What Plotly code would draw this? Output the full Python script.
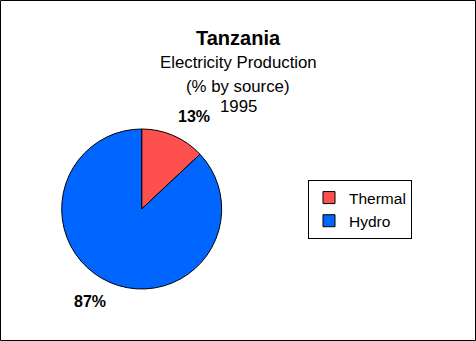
import math
import plotly.graph_objects as go

labels = ["Thermal", "Hydro"]
values = [13, 87]
colors = ["#FF5050", "#0066FF"]
title = "Tanzania"
subtitles = ["Electricity Production", "(% by source)", "1995"]

W, H = 476, 341
cx, cy, r = 141.7, 209.0, 80.0  # pixel centre / radius of pie
FONT = "Liberation Sans, Arial, sans-serif"

fig = go.Figure()
fig.add_trace(go.Pie(
    labels=labels, values=values, sort=False, direction="clockwise", rotation=0,
    marker=dict(colors=colors, line=dict(color="black", width=1)),
    textinfo="none", hoverinfo="label+percent",
    domain=dict(x=[(cx - r) / W, (cx + r) / W], y=[1 - (cy + r) / H, 1 - (cy - r) / H]),
))

# percentage labels placed from the data (mid-angle of each slice)
total = sum(values)
cum = 0
annotations = []
for v in values:
    mid = (cum + v / 2) / total * 360 + 6
    cum += v
    R = 106
    x = cx + R * math.sin(math.radians(mid))
    y = cy - R * math.cos(math.radians(mid))
    annotations.append(dict(x=x / W, y=1 - y / H, xref="paper", yref="paper",
                            text=f"<b>{round(v / total * 100)}%</b>", showarrow=False,
                            font=dict(family=FONT, size=16, color="black"),
                            xanchor="center", yanchor="middle"))

annotations.append(dict(x=238 / W, y=1 - 38 / H, xref="paper", yref="paper",
                        text=f"<b>{title}</b>", showarrow=False,
                        font=dict(family=FONT, size=20, color="black"),
                        xanchor="center", yanchor="middle"))
for ty, s in zip([62, 86, 107], subtitles):
    annotations.append(dict(x=238 / W, y=1 - ty / H, xref="paper", yref="paper",
                            text=s, showarrow=False,
                            font=dict(family=FONT, size=16.8, color="black"),
                            xanchor="center", yanchor="middle"))

fig.update_layout(
    width=W, height=H, margin=dict(l=0, r=0, t=0, b=0),
    paper_bgcolor="white", plot_bgcolor="white",
    annotations=annotations,
    showlegend=True,
    legend=dict(x=308 / W, y=1 - 180 / H, xanchor="left", yanchor="top",
                bgcolor="white", bordercolor="black", borderwidth=1,
                font=dict(family=FONT, size=15.5, color="black"),
                itemwidth=30, traceorder="normal"),
    shapes=[dict(type="rect", xref="paper", yref="paper",
                 x0=0.5 / W, x1=(W - 0.5) / W, y0=0.5 / H, y1=(H - 0.5) / H,
                 line=dict(color="black", width=1), fillcolor="rgba(0,0,0,0)")],
)

fig.write_html("out.html")
